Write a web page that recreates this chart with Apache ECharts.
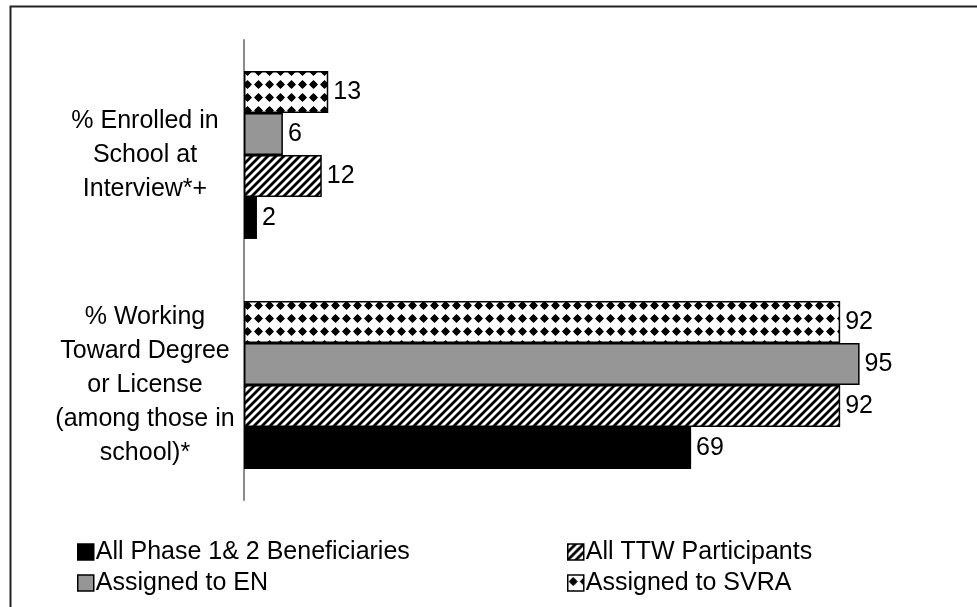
<!DOCTYPE html>
<html>
<head>
<meta charset="utf-8">
<script src="https://cdn.jsdelivr.net/npm/echarts@6/dist/echarts.min.js"></script>
<style>
  html, body { margin: 0; padding: 0; background: #fff; }
  #chart { width: 977px; height: 607px; }
</style>
</head>
<body>
<div id="chart"></div>
<script>
// Categories listed bottom to top along the vertical axis
const categories = [
  '% Working\nToward Degree\nor License\n(among those in\nschool)*',
  '% Enrolled in\nSchool at\nInterview*+'
];
const seriesNames = [
  'All Phase 1& 2 Beneficiaries',
  'All TTW Participants',
  'Assigned to EN',
  'Assigned to SVRA'
];
const phaseAll = [69, 2];
const ttwAll = [92, 12];
const assignedEN = [95, 6];
const assignedSVRA = [92, 13];

// Diagonal hatch tile
function hatchTile() {
  const c = document.createElement('canvas');
  c.width = 8; c.height = 8;
  const g = c.getContext('2d');
  g.fillStyle = '#fff';
  g.fillRect(0, 0, 8, 8);
  g.strokeStyle = '#000';
  g.lineWidth = 2.8;
  g.beginPath();
  g.moveTo(-2, 10); g.lineTo(10, -2);
  g.moveTo(-6, 6); g.lineTo(6, -6);
  g.moveTo(2, 14); g.lineTo(14, 2);
  g.stroke();
  return c;
}

// Dotted diamond tile
function dotTile() {
  const w = 11, h = 13;
  const c = document.createElement('canvas');
  c.width = w; c.height = h;
  const g = c.getContext('2d');
  g.fillStyle = '#fff';
  g.fillRect(0, 0, w, h);
  g.fillStyle = '#000';
  const cx = w / 2, cy = h / 2, r = 4.5;
  g.beginPath();
  g.moveTo(cx, cy - r); g.lineTo(cx + r, cy); g.lineTo(cx, cy + r); g.lineTo(cx - r, cy);
  g.closePath();
  g.fill();
  g.beginPath();
  g.arc(cx, cy, 3, 0, Math.PI * 2);
  g.fill();
  return c;
}

const font = 'Arial, "Liberation Sans", sans-serif';
const fillByName = {
  'All Phase 1& 2 Beneficiaries': '#000000',
  'All TTW Participants': { image: hatchTile(), repeat: 'repeat' },
  'Assigned to EN': '#969696',
  'Assigned to SVRA': { image: dotTile(), repeat: 'repeat' }
};
const valuesByName = {
  'All Phase 1& 2 Beneficiaries': phaseAll,
  'All TTW Participants': ttwAll,
  'Assigned to EN': assignedEN,
  'Assigned to SVRA': assignedSVRA
};

// Stack order inside each band runs top to bottom: SVRA, EN, TTW, Phase 1&2
const drawOrder = [seriesNames[3], seriesNames[2], seriesNames[1], seriesNames[0]];

const series = drawOrder.map((name) => ({
  name: name,
  type: 'bar',
  data: valuesByName[name],
  barGap: '0%',
  barCategoryGap: '27%',
  itemStyle: {
    color: fillByName[name],
    borderColor: '#000',
    borderWidth: name === seriesNames[0] ? 0 : 1.5
  },
  label: {
    show: true,
    position: 'right',
    distance: 5,
    fontSize: 25,
    fontFamily: font,
    color: '#000'
  }
}));

const legendText = { fontSize: 25, fontFamily: font, color: '#000', lineHeight: 26, padding: [0, 0, 0, -3] };

const legendBase = {
  orient: 'vertical',
  top: 534,
  itemWidth: 16,
  itemHeight: 16,
  itemGap: 5,
  icon: 'rect',
  textStyle: legendText,
  itemStyle: { borderColor: '#000', borderWidth: 1.5 }
};

const chart = echarts.init(document.getElementById('chart'), null, { renderer: 'canvas' });
chart.setOption({
  animation: false,
  backgroundColor: '#fff',
  grid: { left: 244, right: 85, top: 40, bottom: 107, containLabel: false },
  xAxis: {
    type: 'value',
    min: 0,
    max: 100,
    show: false
  },
  yAxis: {
    type: 'category',
    data: categories,
    axisLine: { lineStyle: { color: '#8a8a8a', width: 2 } },
    axisTick: { length: 8, lineStyle: { color: '#555', width: 2 } },
    axisLabel: {
      align: 'center',
      margin: 99,
      fontSize: 25,
      lineHeight: 34,
      fontFamily: font,
      color: '#000'
    }
  },
  legend: [
    Object.assign({ data: [seriesNames[0], seriesNames[2]], left: 72 }, legendBase),
    Object.assign({ data: [seriesNames[1], seriesNames[3]], left: 562 }, legendBase)
  ],
  graphic: [
    {
      type: 'rect',
      shape: { x: 10.5, y: 6.5, width: 1000, height: 700 },
      style: { fill: 'none', stroke: '#222', lineWidth: 2 },
      silent: true
    }
  ],
  series: series
});
</script>
</body>
</html>
